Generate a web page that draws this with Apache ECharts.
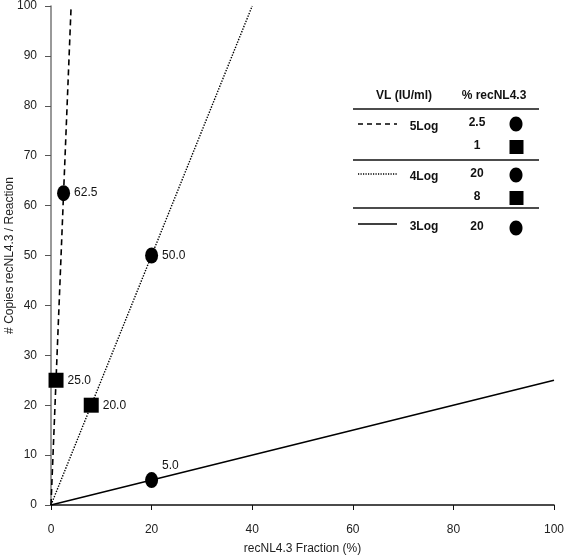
<!DOCTYPE html>
<html>
<head>
<meta charset="utf-8">
<script src="https://cdn.jsdelivr.net/npm/echarts@6/dist/echarts.min.js"></script>
<style>
html,body{margin:0;padding:0;background:#fff;}
#chart{width:565px;height:556px;}
</style>
</head>
<body>
<div id="chart"></div>
<script>
// ---- data ----
const xTicks = [0, 20, 40, 60, 80, 100];
const yTicks = [0, 10, 20, 30, 40, 50, 60, 70, 80, 90, 100];
// fitted lines through origin (endpoints)
const line5LogX = [0, 4];
const line5LogY = [0, 100];
const line4LogX = [0, 40];
const line4LogY = [0, 100];
const line3LogX = [0, 100];
const line3LogY = [0, 25];
// measured points
const circleX = [2.5, 20, 20];
const circleY = [62.5, 50, 5];
const circleLabels = ['62.5', '50.0', '5.0'];
const squareX = [1, 8];
const squareY = [25, 20];
const squareLabels = ['25.0', '20.0'];
// legend table
const legendHeaders = ['VL (IU/ml)', '% recNL4.3'];
const legendGroups = ['5Log', '4Log', '3Log'];
const legendPct = ['2.5', '1', '20', '8', '20'];

const zip = (xs, ys) => xs.map((x, i) => [x, ys[i]]);
const FONT = '"Liberation Sans", Arial, sans-serif';

const chart = echarts.init(document.getElementById('chart'), null, {renderer: 'canvas'});

const lbl = {show: true, position: 'right', distance: 4, color: '#111', fontSize: 12, fontFamily: FONT,
  formatter: p => p.data.label};

const option = {
  animation: false,
  backgroundColor: '#fff',
  grid: {left: 51, right: 11, top: 6, bottom: 51, containLabel: false, outerBoundsMode: 'none'},
  xAxis: {
    type: 'value', min: 0, max: 100, interval: 20,
    name: 'recNL4.3 Fraction (%)', nameLocation: 'middle', nameGap: 38, nameMoveOverlap: false,
    nameTextStyle: {color: '#222', fontSize: 12, fontFamily: FONT},
    axisLine: {lineStyle: {color: '#111', width: 1.5}},
    axisTick: {show: true, length: 5, lineStyle: {color: '#111'}},
    axisLabel: {color: '#222', fontSize: 12, fontFamily: FONT, margin: 19,
      formatter: v => xTicks.includes(v) ? String(v) : ''},
    splitLine: {show: false}
  },
  yAxis: {
    type: 'value', min: 0, max: 100, interval: 10,
    name: '# Copies recNL4.3 / Reaction', nameLocation: 'middle', nameGap: 35, nameMoveOverlap: false,
    nameTextStyle: {color: '#222', fontSize: 12, fontFamily: FONT},
    axisLine: {show: true, lineStyle: {color: '#777', width: 1.5}},
    axisTick: {show: true, length: 6, lineStyle: {color: '#555'}},
    axisLabel: {color: '#222', fontSize: 12, fontFamily: FONT, margin: 14,
      formatter: v => yTicks.includes(v) ? String(v) : ''},
    splitLine: {show: false}
  },
  series: [
    {type: 'line', data: zip(line5LogX, line5LogY), symbol: 'none', silent: true,
      lineStyle: {color: '#000', width: 1.6, type: [6, 4]}},
    {type: 'line', data: zip(line4LogX, line4LogY), symbol: 'none', silent: true,
      lineStyle: {color: '#000', width: 1.4, type: [1.4, 1.4]}},
    {type: 'line', data: zip(line3LogX, line3LogY), symbol: 'none', silent: true,
      lineStyle: {color: '#000', width: 1.5}},
    {type: 'scatter', symbol: 'circle', symbolSize: [13, 16], itemStyle: {color: '#000', opacity: 1},
      data: circleX.map((x, i) => ({value: [x, circleY[i]], label: circleLabels[i]})),
      label: lbl,
      labelLayout: p => p.dataIndex === 2 ? {dx: 0, dy: -14} : {}
    },
    {type: 'scatter', symbol: 'rect', symbolSize: 15, itemStyle: {color: '#000', opacity: 1},
      data: squareX.map((x, i) => ({value: [x, squareY[i]], label: squareLabels[i]})),
      label: lbl
    }
  ],
  graphic: []
};

// legend table graphics
const g = [];
const bold = {fontSize: 12, fontWeight: 'bold', fontFamily: FONT, fill: '#111'};
g.push({type: 'text', x: 404, y: 96, style: Object.assign({text: legendHeaders[0], align: 'center', verticalAlign: 'middle'}, bold)});
g.push({type: 'text', x: 494, y: 96, style: Object.assign({text: legendHeaders[1], align: 'center', verticalAlign: 'middle'}, bold)});
[109, 160, 208].forEach(y => g.push({type: 'line', shape: {x1: 353, y1: y, x2: 539, y2: y}, style: {stroke: '#111', lineWidth: 1.5}}));
const sampleY = [124, 174, 224];
const sampleDash = [[5, 4], [1.2, 1.3], null];
const sampleW = [1.5, 1.3, 1.5];
legendGroups.forEach((name, i) => {
  g.push({type: 'line', shape: {x1: 358, y1: sampleY[i], x2: 397, y2: sampleY[i]},
    style: {stroke: '#000', lineWidth: sampleW[i], lineDash: sampleDash[i]}});
  g.push({type: 'text', x: 424, y: sampleY[i] + 3, style: Object.assign({text: name, align: 'center', verticalAlign: 'middle'}, bold)});
});
const pctY = [123, 146, 174, 197, 227];
const pctShape = ['c', 's', 'c', 's', 'c'];
legendPct.forEach((t, i) => {
  g.push({type: 'text', x: 477, y: pctY[i], style: Object.assign({text: t, align: 'center', verticalAlign: 'middle'}, bold)});
  const sy = pctY[i] + 1;
  if (pctShape[i] === 'c') {
    g.push({type: 'ellipse', shape: {cx: 516, cy: sy, rx: 6.5, ry: 7.5}, style: {fill: '#000'}});
  } else {
    g.push({type: 'rect', shape: {x: 509.5, y: sy - 7, width: 14, height: 14}, style: {fill: '#000'}});
  }
});
option.graphic = g;

chart.setOption(option);
</script>
</body>
</html>
